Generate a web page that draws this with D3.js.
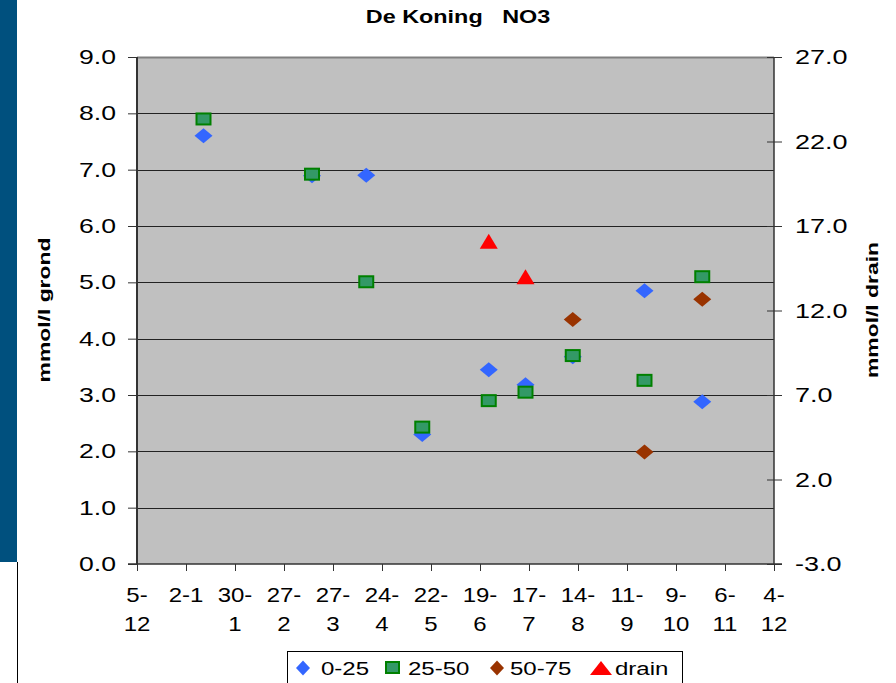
<!DOCTYPE html>
<html>
<head>
<meta charset="utf-8">
<script src="https://cdn.jsdelivr.net/npm/d3@7"></script>
<style>
  html, body { margin: 0; padding: 0; background: #ffffff; }
  svg { display: block; font-family: "Liberation Sans", Arial, sans-serif; }
</style>
</head>
<body>
<svg id="chart" width="896" height="683"></svg>
<script>
// ---- data ----
const title = "De Koning   NO3";
const leftAxisTitle = "mmol/l grond";
const rightAxisTitle = "mmol/l drain";
const sampleDates = ["2007-01-12", "2007-03-15", "2007-04-15", "2007-05-17", "2007-06-24", "2007-07-15", "2007-08-11", "2007-09-21", "2007-10-24"];
const series0_25  = [7.6, 6.89, 6.9, 2.3, 3.45, 3.18, 3.68, 4.85, 2.88];
const series25_50 = [7.9, 6.92, 5.01, 2.43, 2.9, 3.05, 3.7, 3.26, 5.1];
const series50_75 = [null, null, null, null, null, null, 4.34, 1.99, 4.7];
const seriesDrain = [null, null, null, null, 16.1, 14.0, null, null, null];
const seriesNames = ["0-25", "25-50", "50-75", "drain"];
const xTickDates = ["2006-12-05", "2007-01-02", "2007-01-30", "2007-02-27", "2007-03-27", "2007-04-24", "2007-05-22", "2007-06-19", "2007-07-17", "2007-08-14", "2007-09-11", "2007-10-09", "2007-11-06", "2007-12-04"];
const xTickLabels = [["5-", "12"], ["2-1"], ["30-", "1"], ["27-", "2"], ["27-", "3"], ["24-", "4"], ["22-", "5"], ["19-", "6"], ["17-", "7"], ["14-", "8"], ["11-", "9"], ["9-", "10"], ["6-", "11"], ["4-", "12"]];
const leftTicks = [0, 1, 2, 3, 4, 5, 6, 7, 8, 9];
const rightTicks = [-3, 2, 7, 12, 17, 22, 27];

// ---- layout ----
const svg = d3.select("#chart");
const parse = d3.utcParse("%Y-%m-%d");
const plot = { left: 137, right: 774, top: 57, bottom: 564 };

const x = d3.scaleUtc()
  .domain([parse(xTickDates[0]), parse(xTickDates[xTickDates.length - 1])])
  .range([plot.left, plot.right]);
const yL = d3.scaleLinear().domain([0, 9]).range([plot.bottom, plot.top]);
const yR = d3.scaleLinear().domain([-3, 27]).range([plot.bottom, plot.top]);

const font = '"Liberation Sans", Arial, sans-serif';

// left decorative bar
svg.append("rect").attr("x", 0).attr("y", 0).attr("width", 17).attr("height", 562).attr("fill", "#00507E");
svg.append("line").attr("x1", 17.5).attr("x2", 17.5).attr("y1", 562).attr("y2", 683).attr("stroke", "#000").attr("stroke-width", 1);

// plot background
svg.append("rect")
  .attr("x", plot.left).attr("y", plot.top)
  .attr("width", plot.right - plot.left).attr("height", plot.bottom - plot.top)
  .attr("fill", "#C0C0C0");

// gridlines
svg.append("g").selectAll("line").data(leftTicks.filter(d => d > 0)).join("line")
  .attr("x1", plot.left).attr("x2", plot.right)
  .attr("y1", d => Math.round(yL(d)) + 0.5).attr("y2", d => Math.round(yL(d)) + 0.5)
  .attr("stroke", d => d === 9 ? "#808080" : "#222")
  .attr("stroke-width", d => d === 9 ? 2 : 1);

// left axis
const gL = svg.append("g").attr("transform", `translate(${plot.left},0)`)
  .call(d3.axisLeft(yL).tickValues(leftTicks).tickSize(9).tickPadding(0).tickFormat(() => ""));
gL.select(".domain").attr("stroke", "#333").attr("stroke-width", 2).attr("d", `M0,${plot.top}V${plot.bottom}`);
gL.selectAll(".tick line").attr("stroke", "#333");
svg.append("g").selectAll("text").data(leftTicks).join("text")
  .attr("transform", d => `translate(116,${yL(d) + 7}) scale(1.33,1)`)
  .attr("text-anchor", "end").attr("font-size", 20).attr("fill", "#000")
  .text(d => d.toFixed(1));

// right axis
const gR = svg.append("g").attr("transform", `translate(${plot.right},0)`)
  .call(d3.axisRight(yR).tickValues(rightTicks).tickSize(8).tickFormat(() => ""));
gR.select(".domain").attr("stroke", "#333").attr("stroke-width", 1.5).attr("d", `M0,${plot.top}V${plot.bottom}`);
gR.selectAll(".tick line").attr("stroke", "#333").attr("x1", -7);
svg.append("g").selectAll("text").data(rightTicks).join("text")
  .attr("transform", d => `translate(795,${yR(d) + 7}) scale(1.35,1)`)
  .attr("text-anchor", "start").attr("font-size", 20).attr("fill", "#000")
  .text(d => d.toFixed(1));

// bottom axis
const tickDates = xTickDates.map(parse);
const gB = svg.append("g").attr("transform", `translate(0,${plot.bottom})`)
  .call(d3.axisBottom(x).tickValues(tickDates).tickSize(7).tickFormat(() => ""));
gB.select(".domain").attr("stroke", "#333").attr("stroke-width", 1.5).attr("d", `M${plot.left - 9},0H${plot.right + 8}`);
gB.selectAll(".tick line").attr("stroke", "#333");
const xl = svg.append("g").selectAll("g").data(tickDates).join("g")
  .attr("transform", d => `translate(${x(d)},0)`);
xl.each(function(d, i) {
  const g = d3.select(this);
  xTickLabels[i].forEach((line, j) => {
    g.append("text")
      .attr("transform", `translate(0,${601.5 + j * 29.5}) scale(1.2,1)`)
      .attr("text-anchor", "middle").attr("font-size", 20).attr("fill", "#000")
      .text(line);
  });
});

// marker shapes
function diamond(w, h) { return `M0,${-h / 2}L${w / 2},0L0,${h / 2}L${-w / 2},0Z`; }
function triangle(w, h) { return `M0,${-h / 2}L${w / 2},${h / 2}L${-w / 2},${h / 2}Z`; }

const dates = sampleDates.map(parse);
function pts(vals) { return dates.map((d, i) => ({ d, v: vals[i] })).filter(p => p.v != null); }

// series 0-25
svg.append("g").selectAll("path").data(pts(series0_25)).join("path")
  .attr("transform", p => `translate(${x(p.d)},${yL(p.v)})`)
  .attr("d", diamond(18, 15)).attr("fill", "#3366FF");
// series 25-50
svg.append("g").selectAll("rect").data(pts(series25_50)).join("rect")
  .attr("x", p => x(p.d) - 7).attr("y", p => yL(p.v) - 5.5)
  .attr("width", 14).attr("height", 11)
  .attr("fill", "#339966").attr("stroke", "#008000").attr("stroke-width", 2);
// series 50-75
svg.append("g").selectAll("path").data(pts(series50_75)).join("path")
  .attr("transform", p => `translate(${x(p.d)},${yL(p.v)})`)
  .attr("d", diamond(18, 15)).attr("fill", "#993300");
// drain (right axis)
svg.append("g").selectAll("path").data(pts(seriesDrain)).join("path")
  .attr("transform", p => `translate(${x(p.d)},${yR(p.v)})`)
  .attr("d", triangle(18, 15)).attr("fill", "#FF0000");

// title
svg.append("text")
  .attr("transform", "translate(458,23) scale(1.3,1)")
  .attr("text-anchor", "middle").attr("font-size", 18).attr("font-weight", "bold")
  .attr("xml:space", "preserve").style("white-space", "pre")
  .text(title);

// axis titles
svg.append("text")
  .attr("transform", "translate(50,310) rotate(-90) scale(1.43,1)")
  .attr("text-anchor", "middle").attr("font-size", 16).attr("font-weight", "bold")
  .text(leftAxisTitle);
svg.append("text")
  .attr("transform", "translate(878,310) rotate(-90) scale(1.43,1)")
  .attr("text-anchor", "middle").attr("font-size", 16).attr("font-weight", "bold")
  .text(rightAxisTitle);

// legend
const legend = svg.append("g");
legend.append("rect").attr("x", 287.5).attr("y", 651.5).attr("width", 395).attr("height", 45)
  .attr("fill", "#fff").attr("stroke", "#000").attr("stroke-width", 1);
const legendItems = [
  { name: seriesNames[0], mx: 303, tx: 321, kind: "diamond", color: "#3366FF" },
  { name: seriesNames[1], mx: 392.5, tx: 408, kind: "square", color: "#339966" },
  { name: seriesNames[2], mx: 497, tx: 510, kind: "diamond", color: "#993300" },
  { name: seriesNames[3], mx: 601, tx: 615, kind: "triangle", color: "#FF0000" }
];
legendItems.forEach(it => {
  if (it.kind === "diamond") {
    legend.append("path").attr("transform", `translate(${it.mx},668)`).attr("d", diamond(14, 15)).attr("fill", it.color);
  } else if (it.kind === "square") {
    legend.append("rect").attr("x", it.mx - 6.5).attr("y", 662).attr("width", 13).attr("height", 11)
      .attr("fill", it.color).attr("stroke", "#008000").attr("stroke-width", 2);
  } else {
    legend.append("path").attr("transform", `translate(${it.mx},668)`).attr("d", triangle(22, 14)).attr("fill", it.color);
  }
  legend.append("text")
    .attr("transform", `translate(${it.tx},675) scale(1.3,1)`)
    .attr("font-size", 18.5).attr("fill", "#000")
    .text(it.name);
});
</script>
</body>
</html>
